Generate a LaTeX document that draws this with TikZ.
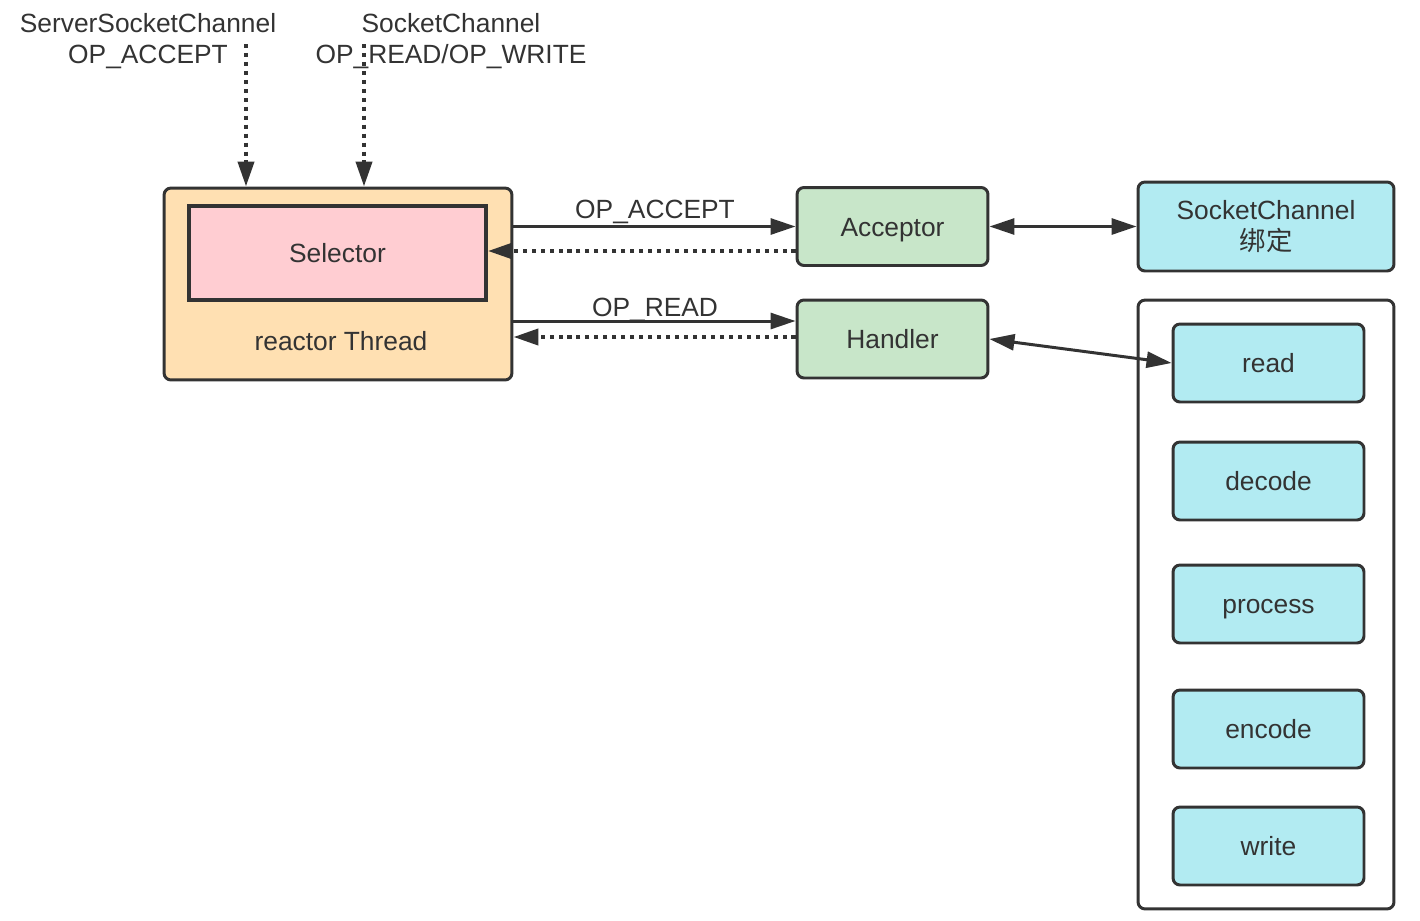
\documentclass[tikz,border=0pt]{standalone}
\usepackage{fontspec}
\setmainfont{Liberation Sans}
\newfontfamily\cjk{Noto Sans CJK SC}
\usetikzlibrary{arrows.meta}
\definecolor{ink}{HTML}{333333}
\definecolor{threadfill}{HTML}{FFE0B2}
\definecolor{selfill}{HTML}{FFCDD2}
\definecolor{greenfill}{HTML}{C8E6C9}
\definecolor{cyanfill}{HTML}{B2EBF2}
\tikzset{
  txt/.style={text=ink, font=\fontsize{15}{18}\selectfont, inner sep=0pt},
  oplabel/.style={txt, text height=0.38cm, text depth=0pt},
  box/.style={txt, draw=ink, line width=1.7pt, rounded corners=0.14cm, minimum width=3.82cm, minimum height=1.56cm, text height=0.38cm, text depth=0pt},
  stepbox/.style={box, fill=cyanfill},
  tip/.tip={Triangle[length=0.5cm, width=0.32cm]},
  solidarrow/.style={draw=ink, line width=1.7pt, -tip},
  dotarrow/.style={draw=ink, line width=2.3pt, dash pattern=on 2.3pt off 2.8pt, -tip},
  botharrow/.style={draw=ink, line width=1.7pt, tip-tip}
}
\begin{document}
\begin{tikzpicture}[x=0.02cm, y=-0.02cm]
  \useasboundingbox (0, 0) rectangle (1420, 920);
  \node[box, fill=threadfill, minimum width=6.96cm, minimum height=3.84cm] (thread) at (338, 284) {};
  \node[box, fill=selfill, rounded corners=0pt, line width=2.2pt, minimum width=5.94cm, minimum height=1.88cm] (selector) at (337.5, 253) {Selector};
  \node[txt] (threadlabel) at (341, 341) {reactor Thread};
  \node[txt, align=center] (ssc) at (148, 41) {ServerSocketChannel\\OP\_ACCEPT};
  \node[txt, align=center] (sc) at (451, 41) {SocketChannel\\OP\_READ/OP\_WRITE};
  \node[box, fill=greenfill] (acceptor) at (892.5, 226.5) {Acceptor};
  \node[box, fill=greenfill] (handler) at (892.5, 339) {Handler};
  \node[box, fill=cyanfill, align=center, text height=, text depth=, minimum width=5.12cm, minimum height=1.78cm] (bind) at (1266, 226.5) {SocketChannel\\{\cjk 绑定}};
  \node[box, fill=white, minimum width=5.12cm, minimum height=12.18cm] (group) at (1266, 604.5) {};
  \node[stepbox] (read) at (1268.5, 363) {read};
  \node[stepbox] (decode) at (1268.5, 481) {decode};
  \node[stepbox] (process) at (1268.5, 604) {process};
  \node[stepbox] (encode) at (1268.5, 729) {encode};
  \node[stepbox] (write) at (1268.5, 846) {write};
  \node[oplabel] (oplabel1) at (655, 209) {OP\_ACCEPT};
  \node[oplabel] (oplabel2) at (655, 307) {OP\_READ};
  \coordinate (acceptin) at (246, 44);
  \coordinate (readin) at (364, 44);
  \draw[dotarrow] (acceptin) -- (acceptin |- thread.north);
  \draw[dotarrow] (readin) -- (readin |- thread.north);
  \draw[solidarrow] (thread.east |- acceptor.west) -- (acceptor.west);
  \draw[dotarrow] (acceptor.west |- 0, 251) -- (selector.east |- 0, 251);
  \draw[solidarrow] (thread.east |- 0, 321) -- (handler.west |- 0, 321);
  \draw[dotarrow] (handler.west |- 0, 337) -- (thread.east |- 0, 337);
  \draw[botharrow] (acceptor.east) -- (bind.west);
  \draw[botharrow] (handler.east) -- (read.west);
\end{tikzpicture}
\end{document}
